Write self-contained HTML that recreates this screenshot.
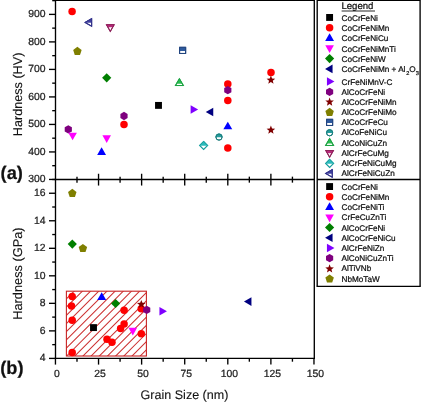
<!DOCTYPE html><html><head><meta charset="utf-8"><style>html,body{margin:0;padding:0;background:#fff;width:421px;height:402px;overflow:hidden}body{position:relative;font-family:"Liberation Sans",sans-serif}text{stroke:#000;stroke-width:0.22px;paint-order:stroke}</style></head><body><svg width="421" height="402" viewBox="0 0 421 402" style="position:absolute;left:0;top:0;will-change:transform;filter:blur(0.3px)" font-family="Liberation Sans, sans-serif" text-rendering="geometricPrecision">
<defs><clipPath id="hr"><rect x="66.40" y="291.20" width="80.00" height="64.80"/></clipPath><clipPath id="c1"><rect x="78.20" y="12.40" width="20" height="10.30"/></clipPath><clipPath id="c2"><rect x="100.30" y="18.20" width="20" height="9.13"/></clipPath><clipPath id="c3"><rect x="172.60" y="40.40" width="20" height="10.70"/></clipPath><clipPath id="c4"><rect x="169.40" y="72.00" width="20" height="11.68"/></clipPath><clipPath id="c5"><rect x="209.00" y="127.10" width="20" height="10.15"/></clipPath><clipPath id="c6"><rect x="193.60" y="135.50" width="20" height="10.30"/></clipPath><clipPath id="c7"><rect x="319.60" y="112.40" width="20" height="10.70"/></clipPath><clipPath id="c8"><rect x="319.60" y="122.80" width="20" height="10.15"/></clipPath><clipPath id="c9"><rect x="319.60" y="131.90" width="20" height="11.68"/></clipPath><clipPath id="c10"><rect x="319.60" y="144.00" width="20" height="9.13"/></clipPath><clipPath id="c11"><rect x="319.60" y="153.40" width="20" height="10.30"/></clipPath><clipPath id="c12"><rect x="318.80" y="163.40" width="20" height="10.30"/></clipPath></defs>
<rect width="421" height="402" fill="#fff"/>
<g clip-path="url(#hr)"><path d="M69.80,361.00L144.60,286.20M61.62,361.00L136.42,286.20M53.44,361.00L128.24,286.20M45.26,361.00L120.06,286.20M37.08,361.00L111.88,286.20M28.90,361.00L103.70,286.20M20.72,361.00L95.52,286.20M12.54,361.00L87.34,286.20M4.36,361.00L79.16,286.20M-3.82,361.00L70.98,286.20M-12.00,361.00L62.80,286.20M77.98,361.00L152.78,286.20M86.16,361.00L160.96,286.20M94.34,361.00L169.14,286.20M102.52,361.00L177.32,286.20M110.70,361.00L185.50,286.20M118.88,361.00L193.68,286.20M127.06,361.00L201.86,286.20M135.24,361.00L210.04,286.20M143.42,361.00L218.22,286.20" stroke="#cc3232" stroke-width="1.05" fill="none"/></g>
<rect x="66.40" y="291.20" width="80.00" height="64.80" fill="none" stroke="#c82424" stroke-width="1.1"/>
<polygon points="68.30,125.15 71.89,127.23 71.89,131.38 68.30,133.45 64.71,131.38 64.71,127.23" fill="#7f007f"/>
<polygon points="68.30,132.70 76.90,132.70 72.60,140.30" fill="#ff00ff"/>
<circle cx="72.10" cy="11.40" r="3.75" fill="#ff0000"/>
<polygon points="85.05,22.40 91.65,18.62 91.65,26.18" fill="#fff" stroke="#33338a" stroke-width="1.1" stroke-linejoin="miter"/><polygon points="84.45,22.40 91.95,18.10 91.95,26.70" fill="#4040a0" clip-path="url(#c1)"/><polygon points="85.05,22.40 91.65,18.62 91.65,26.18" fill="none" stroke="#33338a" stroke-width="1.0"/>
<polygon points="106.52,24.70 114.08,24.70 110.30,31.40" fill="#fff" stroke="#8c2259" stroke-width="1.1" stroke-linejoin="miter"/><polygon points="106.00,24.40 114.60,24.40 110.30,32.00" fill="#b8287a" clip-path="url(#c2)"/><polygon points="106.52,24.70 114.08,24.70 110.30,31.40" fill="none" stroke="#8c2259" stroke-width="1.0"/>
<polygon points="77.40,46.85 81.63,49.92 80.02,54.90 74.78,54.90 73.17,49.92" fill="#7f7f00"/>
<polygon points="179.57,47.37 185.63,47.37 185.63,53.43 179.57,53.43" fill="#fff" stroke="#24467f" stroke-width="1.1" stroke-linejoin="miter"/><polygon points="179.15,46.95 186.05,46.95 186.05,53.85 179.15,53.85" fill="#2e5a9e" clip-path="url(#c3)"/><polygon points="179.57,47.37 185.63,47.37 185.63,53.43 179.57,53.43" fill="none" stroke="#24467f" stroke-width="1.0"/>
<polygon points="106.70,73.20 111.30,77.80 106.70,82.40 102.10,77.80" fill="#007f00"/>
<polygon points="179.40,78.75 183.33,85.55 175.47,85.55" fill="#fff" stroke="#1fa244" stroke-width="1.1" stroke-linejoin="miter"/><polygon points="179.40,78.15 183.85,85.85 174.95,85.85" fill="#2abf52" clip-path="url(#c4)"/><polygon points="179.40,78.75 183.33,85.55 175.47,85.55" fill="none" stroke="#1fa244" stroke-width="1.0"/>
<circle cx="227.80" cy="84.00" r="3.75" fill="#ff0000"/>
<polygon points="227.80,86.05 231.39,88.12 231.39,92.28 227.80,94.35 224.21,92.28 224.21,88.12" fill="#7f007f"/>
<circle cx="227.80" cy="100.60" r="3.75" fill="#ff0000"/>
<circle cx="271.00" cy="72.60" r="3.75" fill="#ff0000"/>
<polygon points="270.90,75.60 272.05,78.52 275.18,78.71 272.75,80.70 273.55,83.74 270.90,82.05 268.25,83.74 269.05,80.70 266.62,78.71 269.75,78.52" fill="#7f0000"/>
<polygon points="155.05,101.95 161.95,101.95 161.95,108.85 155.05,108.85" fill="#000000"/>
<polygon points="198.15,109.50 190.65,105.20 190.65,113.80" fill="#7f00ff"/>
<polygon points="205.75,112.00 213.25,107.70 213.25,116.30" fill="#000080"/>
<polygon points="124.00,111.85 127.59,113.92 127.59,118.08 124.00,120.15 120.41,118.08 120.41,113.92" fill="#7f007f"/>
<circle cx="124.00" cy="124.60" r="3.75" fill="#ff0000"/>
<polygon points="102.40,135.30 111.00,135.30 106.70,142.90" fill="#ff00ff"/>
<polygon points="101.60,147.35 106.05,155.05 97.15,155.05" fill="#0000ff"/>
<polygon points="227.80,121.65 232.25,129.35 223.35,129.35" fill="#0000ff"/>
<circle cx="219.00" cy="137.10" r="3.05" fill="#fff" stroke="#1b7d7d" stroke-width="1.0"/><circle cx="219.00" cy="137.10" r="3.50" fill="#259c9c" clip-path="url(#c5)"/><circle cx="219.00" cy="137.10" r="3.05" fill="none" stroke="#1b7d7d" stroke-width="1.0"/>
<polygon points="203.60,141.50 207.60,145.50 203.60,149.50 199.60,145.50" fill="#fff" stroke="#1e9f9f" stroke-width="1.1" stroke-linejoin="miter"/><polygon points="203.60,140.90 208.20,145.50 203.60,150.10 199.00,145.50" fill="#2abbbb" clip-path="url(#c6)"/><polygon points="203.60,141.50 207.60,145.50 203.60,149.50 199.60,145.50" fill="none" stroke="#1e9f9f" stroke-width="1.0"/>
<circle cx="227.80" cy="147.90" r="3.75" fill="#ff0000"/>
<polygon points="270.90,125.60 272.05,128.52 275.18,128.71 272.75,130.70 273.55,133.74 270.90,132.05 268.25,133.74 269.05,130.70 266.62,128.71 269.75,128.52" fill="#7f0000"/>
<polygon points="72.30,188.85 76.53,191.92 74.92,196.90 69.68,196.90 68.07,191.92" fill="#7f7f00"/>
<polygon points="72.30,239.50 76.90,244.10 72.30,248.70 67.70,244.10" fill="#007f00"/>
<polygon points="82.90,244.05 87.13,247.12 85.52,252.10 80.28,252.10 78.67,247.12" fill="#7f7f00"/>
<circle cx="72.20" cy="296.60" r="3.75" fill="#ff0000"/>
<circle cx="71.50" cy="306.10" r="3.75" fill="#ff0000"/>
<circle cx="72.20" cy="320.20" r="3.75" fill="#ff0000"/>
<circle cx="72.20" cy="352.60" r="3.75" fill="#ff0000"/>
<polygon points="90.05,324.15 96.95,324.15 96.95,331.05 90.05,331.05" fill="#000000"/>
<polygon points="101.70,292.35 106.15,300.05 97.25,300.05" fill="#0000ff"/>
<polygon points="115.60,298.90 120.20,303.50 115.60,308.10 111.00,303.50" fill="#007f00"/>
<circle cx="124.10" cy="310.30" r="3.75" fill="#ff0000"/>
<circle cx="124.10" cy="324.10" r="3.75" fill="#ff0000"/>
<circle cx="120.60" cy="328.50" r="3.75" fill="#ff0000"/>
<circle cx="107.00" cy="339.20" r="3.75" fill="#ff0000"/>
<circle cx="112.00" cy="342.30" r="3.75" fill="#ff0000"/>
<polygon points="128.50,327.80 137.10,327.80 132.80,335.40" fill="#ff00ff"/>
<circle cx="141.30" cy="333.70" r="3.75" fill="#ff0000"/>
<circle cx="141.20" cy="308.70" r="3.75" fill="#ff0000"/>
<polygon points="141.30,299.90 142.45,302.82 145.58,303.01 143.15,305.00 143.95,308.04 141.30,306.35 138.65,308.04 139.45,305.00 137.02,303.01 140.15,302.82" fill="#7f0000"/>
<polygon points="146.70,305.65 150.29,307.73 150.29,311.88 146.70,313.95 143.11,311.88 143.11,307.73" fill="#7f007f"/>
<polygon points="166.95,311.20 159.45,306.90 159.45,315.50" fill="#7f00ff"/>
<polygon points="243.95,301.60 251.45,297.30 251.45,305.90" fill="#000080"/>
<g stroke="#000" stroke-width="1.35" fill="none">
<path d="M54.80,0.30H315.00"/>
<path d="M55.50,0.00V358.40"/>
<path d="M314.30,0.00V358.40"/>
<path d="M54.80,179.45H315.00"/>
<path d="M54.80,358.40H315.00"/>
<path d="M49.00,179.45H55.50"/>
<path d="M52.20,165.69H55.50"/>
<path d="M49.00,151.94H55.50"/>
<path d="M52.20,138.19H55.50"/>
<path d="M49.00,124.43H55.50"/>
<path d="M52.20,110.67H55.50"/>
<path d="M49.00,96.92H55.50"/>
<path d="M52.20,83.16H55.50"/>
<path d="M49.00,69.41H55.50"/>
<path d="M52.20,55.65H55.50"/>
<path d="M49.00,41.90H55.50"/>
<path d="M52.20,28.14H55.50"/>
<path d="M49.00,14.39H55.50"/>
<path d="M52.20,0.63H55.50"/>
<path d="M49.00,358.40H55.50"/>
<path d="M52.20,344.64H55.50"/>
<path d="M49.00,330.88H55.50"/>
<path d="M52.20,317.11H55.50"/>
<path d="M49.00,303.35H55.50"/>
<path d="M52.20,289.59H55.50"/>
<path d="M49.00,275.82H55.50"/>
<path d="M52.20,262.06H55.50"/>
<path d="M49.00,248.30H55.50"/>
<path d="M52.20,234.54H55.50"/>
<path d="M49.00,220.77H55.50"/>
<path d="M52.20,207.01H55.50"/>
<path d="M49.00,193.25H55.50"/>
<path d="M52.20,179.49H55.50"/>
<path d="M55.45,358.40V364.60"/>
<path d="M76.99,358.40V361.70"/>
<path d="M98.54,358.40V364.60"/>
<path d="M120.08,358.40V361.70"/>
<path d="M141.62,358.40V364.60"/>
<path d="M163.17,358.40V361.70"/>
<path d="M184.71,358.40V364.60"/>
<path d="M206.26,358.40V361.70"/>
<path d="M227.80,358.40V364.60"/>
<path d="M249.34,358.40V361.70"/>
<path d="M270.89,358.40V364.60"/>
<path d="M292.43,358.40V361.70"/>
<path d="M313.97,358.40V364.60"/>
<path d="M76.99,176.65V182.65"/>
<path d="M98.54,173.75V185.55"/>
<path d="M120.08,176.65V182.65"/>
<path d="M141.62,173.75V185.55"/>
<path d="M163.17,176.65V182.65"/>
<path d="M184.71,173.75V185.55"/>
<path d="M206.26,176.65V182.65"/>
<path d="M227.80,173.75V185.55"/>
<path d="M249.34,176.65V182.65"/>
<path d="M270.89,173.75V185.55"/>
<path d="M292.43,176.65V182.65"/>
</g>
<g stroke="#000" stroke-width="1.35" fill="none">
<path d="M317.20,0.30H420.10"/>
<path d="M317.20,179.45H420.10"/>
<path d="M316.60,286.40H420.70"/>
<path d="M317.20,0.00V286.40"/>
<path d="M420.10,0.00V286.40"/>
</g>
<g font-size="10.4" fill="#222" text-anchor="end">
<text x="45.5" y="182.35">300</text>
<text x="45.5" y="154.84">400</text>
<text x="45.5" y="127.33">500</text>
<text x="45.5" y="99.82">600</text>
<text x="45.5" y="72.31">700</text>
<text x="45.5" y="44.80">800</text>
<text x="45.5" y="17.29">900</text>
<text x="45.5" y="361.30">4</text>
<text x="45.5" y="333.77">6</text>
<text x="45.5" y="306.25">8</text>
<text x="45.5" y="278.72">10</text>
<text x="45.5" y="251.20">12</text>
<text x="45.5" y="223.67">14</text>
<text x="45.5" y="196.15">16</text>
</g>
<g font-size="10.4" fill="#222" text-anchor="middle">
<text x="56.95" y="377.3">0</text>
<text x="100.04" y="377.3">25</text>
<text x="143.12" y="377.3">50</text>
<text x="186.21" y="377.3">75</text>
<text x="229.30" y="377.3">100</text>
<text x="272.39" y="377.3">125</text>
<text x="315.47" y="377.3">150</text>
</g>
<text x="184.5" y="398.6" font-size="12.55" text-anchor="middle" fill="#111" style="stroke-width:0.1px">Grain Size (nm)</text>
<text transform="translate(21.8,94.4) rotate(-90)" font-size="12.65" text-anchor="middle" fill="#111" style="stroke-width:0.1px">Hardness (HV)</text>
<text transform="translate(21.8,273.6) rotate(-90)" font-size="12.8" text-anchor="middle" fill="#111" style="stroke-width:0.1px">Hardness (GPa)</text>
<text x="0.6" y="179.0" font-size="18.2" font-weight="bold" fill="#111">(a)</text>
<text x="0.3" y="373.6" font-size="18.2" font-weight="bold" fill="#111">(b)</text>
<text x="341.4" y="9.2" font-size="9.6" fill="#111">Legend</text>
<path d="M341.6,11.0H375.0" stroke="#111" stroke-width="0.9"/>
<polygon points="326.15,14.00 333.05,14.00 333.05,20.90 326.15,20.90" fill="#000000"/>
<text x="341.50" y="20.75" font-size="8.2" fill="#111">CoCrFeNi</text>
<circle cx="329.60" cy="27.75" r="3.75" fill="#ff0000"/>
<text x="341.50" y="31.00" font-size="8.2" fill="#111">CoCrFeNiMn</text>
<polygon points="329.60,33.30 334.05,41.00 325.15,41.00" fill="#0000ff"/>
<text x="341.50" y="41.25" font-size="8.2" fill="#111">CoCrFeNiCu</text>
<polygon points="325.30,45.30 333.90,45.30 329.60,52.90" fill="#ff00ff"/>
<text x="341.50" y="51.50" font-size="8.2" fill="#111">CoCrFeNiMnTi</text>
<polygon points="329.60,54.00 334.20,58.60 329.60,63.20 325.00,58.60" fill="#007f00"/>
<text x="341.50" y="61.75" font-size="8.2" fill="#111">CoCrFeNiW</text>
<polygon points="325.05,68.90 332.55,64.60 332.55,73.20" fill="#000080"/>
<text x="341.50" y="72.00" font-size="8.2" fill="#111">CoCrFeNiMn + Al<tspan font-size="5.6" dx="0.8" dy="3">2</tspan><tspan dy="-3">O</tspan><tspan font-size="5.6" dy="3">3</tspan></text>
<polygon points="334.45,81.50 326.95,77.20 326.95,85.80" fill="#7f00ff"/>
<text x="341.50" y="84.65" font-size="8.2" fill="#111">CrFeNiMnV-C</text>
<polygon points="329.60,87.65 333.19,89.72 333.19,93.88 329.60,95.95 326.01,93.88 326.01,89.72" fill="#7f007f"/>
<text x="341.50" y="94.81" font-size="8.2" fill="#111">AlCoCrFeNi</text>
<polygon points="329.60,97.50 330.75,100.42 333.88,100.61 331.45,102.60 332.25,105.64 329.60,103.95 326.95,105.64 327.75,102.60 325.32,100.61 328.45,100.42" fill="#7f0000"/>
<text x="341.50" y="104.97" font-size="8.2" fill="#111">AlCoCrFeNiMn</text>
<polygon points="329.60,107.85 333.83,110.92 332.22,115.90 326.98,115.90 325.37,110.92" fill="#7f7f00"/>
<text x="341.50" y="115.13" font-size="8.2" fill="#111">AlCoCrFeNiMo</text>
<polygon points="326.57,119.37 332.63,119.37 332.63,125.43 326.57,125.43" fill="#fff" stroke="#24467f" stroke-width="1.1" stroke-linejoin="miter"/><polygon points="326.15,118.95 333.05,118.95 333.05,125.85 326.15,125.85" fill="#2e5a9e" clip-path="url(#c7)"/><polygon points="326.57,119.37 332.63,119.37 332.63,125.43 326.57,125.43" fill="none" stroke="#24467f" stroke-width="1.0"/>
<text x="341.50" y="125.29" font-size="8.2" fill="#111">AlCoCrFeCu</text>
<circle cx="329.60" cy="132.80" r="3.05" fill="#fff" stroke="#1b7d7d" stroke-width="1.0"/><circle cx="329.60" cy="132.80" r="3.50" fill="#259c9c" clip-path="url(#c8)"/><circle cx="329.60" cy="132.80" r="3.05" fill="none" stroke="#1b7d7d" stroke-width="1.0"/>
<text x="341.50" y="135.45" font-size="8.2" fill="#111">AlCoFeNiCu</text>
<polygon points="329.60,138.65 333.53,145.45 325.67,145.45" fill="#fff" stroke="#1fa244" stroke-width="1.1" stroke-linejoin="miter"/><polygon points="329.60,138.05 334.05,145.75 325.15,145.75" fill="#2abf52" clip-path="url(#c9)"/><polygon points="329.60,138.65 333.53,145.45 325.67,145.45" fill="none" stroke="#1fa244" stroke-width="1.0"/>
<text x="341.50" y="145.61" font-size="8.2" fill="#111">AlCoNiCuZn</text>
<polygon points="325.82,150.50 333.38,150.50 329.60,157.20" fill="#fff" stroke="#8c2259" stroke-width="1.1" stroke-linejoin="miter"/><polygon points="325.30,150.20 333.90,150.20 329.60,157.80" fill="#b8287a" clip-path="url(#c10)"/><polygon points="325.82,150.50 333.38,150.50 329.60,157.20" fill="none" stroke="#8c2259" stroke-width="1.0"/>
<text x="341.50" y="155.77" font-size="8.2" fill="#111">AlCrFeCuMg</text>
<polygon points="329.60,159.40 333.60,163.40 329.60,167.40 325.60,163.40" fill="#fff" stroke="#1e9f9f" stroke-width="1.1" stroke-linejoin="miter"/><polygon points="329.60,158.80 334.20,163.40 329.60,168.00 325.00,163.40" fill="#2abbbb" clip-path="url(#c11)"/><polygon points="329.60,159.40 333.60,163.40 329.60,167.40 325.60,163.40" fill="none" stroke="#1e9f9f" stroke-width="1.0"/>
<text x="341.50" y="165.93" font-size="8.2" fill="#111">AlCrFeNiCuMg</text>
<polygon points="325.65,173.40 332.25,169.62 332.25,177.18" fill="#fff" stroke="#33338a" stroke-width="1.1" stroke-linejoin="miter"/><polygon points="325.05,173.40 332.55,169.10 332.55,177.70" fill="#4040a0" clip-path="url(#c12)"/><polygon points="325.65,173.40 332.25,169.62 332.25,177.18" fill="none" stroke="#33338a" stroke-width="1.0"/>
<text x="341.50" y="176.09" font-size="8.2" fill="#111">AlCrFeNiCuZn</text>
<polygon points="326.15,183.10 333.05,183.10 333.05,190.00 326.15,190.00" fill="#000000"/>
<text x="341.50" y="189.90" font-size="8.2" fill="#111">CoCrFeNi</text>
<circle cx="329.60" cy="196.79" r="3.75" fill="#ff0000"/>
<text x="341.50" y="200.09" font-size="8.2" fill="#111">CoCrFeNiMn</text>
<polygon points="329.60,202.37 334.05,210.07 325.15,210.07" fill="#0000ff"/>
<text x="341.50" y="210.28" font-size="8.2" fill="#111">CoCrFeNiTi</text>
<polygon points="325.30,214.55 333.90,214.55 329.60,222.16" fill="#ff00ff"/>
<text x="341.50" y="220.47" font-size="8.2" fill="#111">CrFeCuZnTi</text>
<polygon points="329.60,222.89 334.20,227.49 329.60,232.09 325.00,227.49" fill="#007f00"/>
<text x="341.50" y="230.66" font-size="8.2" fill="#111">AlCoCrFeNi</text>
<polygon points="325.05,237.73 332.55,233.43 332.55,242.03" fill="#000080"/>
<text x="341.50" y="240.85" font-size="8.2" fill="#111">AlCoCrFeNiCu</text>
<polygon points="334.45,247.96 326.95,243.66 326.95,252.26" fill="#7f00ff"/>
<text x="341.50" y="251.04" font-size="8.2" fill="#111">AlCrFeNiZn</text>
<polygon points="329.60,254.04 333.19,256.12 333.19,260.27 329.60,262.34 326.01,260.27 326.01,256.12" fill="#7f007f"/>
<text x="341.50" y="261.23" font-size="8.2" fill="#111">AlCoNiCuZnTi</text>
<polygon points="329.60,264.33 330.75,267.25 333.88,267.44 331.45,269.43 332.25,272.47 329.60,270.78 326.95,272.47 327.75,269.43 325.32,267.44 328.45,267.25" fill="#7f0000"/>
<text x="341.50" y="271.42" font-size="8.2" fill="#111">AlTiVNb</text>
<polygon points="329.60,274.52 333.83,277.59 332.22,282.57 326.98,282.57 325.37,277.59" fill="#7f7f00"/>
<text x="341.50" y="281.61" font-size="8.2" fill="#111">NbMoTaW</text>
</svg></body></html>
